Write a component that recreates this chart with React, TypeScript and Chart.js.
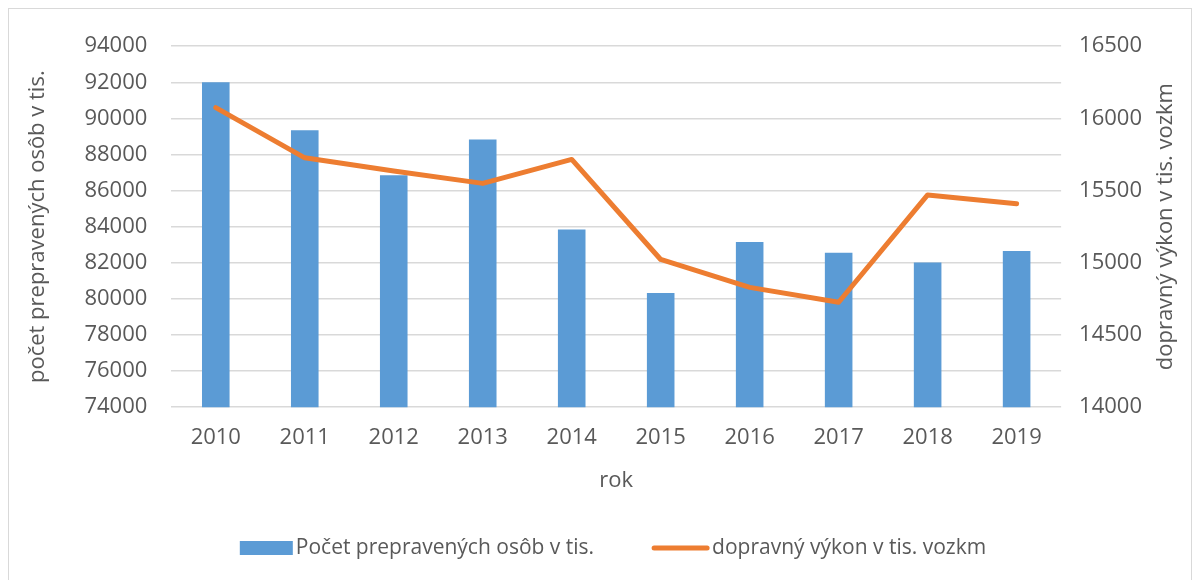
import React, { useEffect, useRef } from "react";
import { Chart, registerables } from "chart.js";

Chart.register(...registerables);

const years = ["2010", "2011", "2012", "2013", "2014", "2015", "2016", "2017", "2018", "2019"];
const passengers = [92000, 89350, 86850, 88830, 83850, 80330, 83150, 82550, 82010, 82650];
const performance = [16075, 15727, 15636, 15550, 15716, 15023, 14830, 14727, 15470, 15409];

const leftTitle = "počet prepravených osôb v tis.";
const rightTitle = "dopravný výkon v tis. vozkm";
const xTitle = "rok";
const barLabel = "Počet prepravených osôb v tis.";
const lineLabel = "dopravný výkon v tis. vozkm";

const FONT = "'Open Sans', sans-serif";
const TEXT = "#595959";
const BAR = "#5B9BD5";
const LINE = "#ED7D31";

const rightTitlePlugin = {
  id: "rightTitle",
  afterDraw(chart: any) {
    const { ctx, chartArea } = chart;
    ctx.save();
    ctx.font = `22px ${FONT}`;
    ctx.fillStyle = TEXT;
    ctx.textAlign = "center";
    ctx.textBaseline = "middle";
    ctx.translate(1157, (chartArea.top + chartArea.bottom) / 2);
    ctx.rotate(-Math.PI / 2);
    ctx.fillText(rightTitle, 0, 0);
    ctx.restore();
  },
};

const legendPlugin = {
  id: "customLegend",
  afterDraw(chart: any) {
    const { ctx } = chart;
    ctx.save();
    ctx.font = `21px ${FONT}`;
    ctx.textBaseline = "middle";
    ctx.textAlign = "left";
    const y = 539;
    const barW = 53;
    const lineW = 57;
    const gapText = 3;
    const gapItems = 58;
    const t1 = ctx.measureText(barLabel).width;
    const t2 = ctx.measureText(lineLabel).width;
    const total = barW + gapText + t1 + gapItems + lineW + gapText + t2;
    let x = 604 - total / 2;
    ctx.fillStyle = BAR;
    ctx.fillRect(x, y - 7, barW, 14);
    x += barW + gapText;
    ctx.fillStyle = TEXT;
    ctx.fillText(barLabel, x, y);
    x += t1 + gapItems;
    ctx.strokeStyle = LINE;
    ctx.lineWidth = 5;
    ctx.lineCap = "round";
    ctx.beginPath();
    ctx.moveTo(x + 2, y);
    ctx.lineTo(x + lineW - 2, y);
    ctx.stroke();
    x += lineW + gapText;
    ctx.fillStyle = TEXT;
    ctx.fillText(lineLabel, x, y);
    ctx.restore();
  },
};

export default function App() {
  const ref = useRef<HTMLCanvasElement | null>(null);
  useEffect(() => {
    if (!ref.current) return;
    const chart = new Chart(ref.current, {
      type: "bar",
      data: {
        labels: years,
        datasets: [
          {
            type: "line",
            label: lineLabel,
            data: performance,
            yAxisID: "y1",
            borderColor: LINE,
            backgroundColor: LINE,
            borderWidth: 5,
            pointRadius: 0,
            tension: 0,
            borderCapStyle: "round",
            borderJoinStyle: "round",
            order: 0,
          } as any,
          {
            type: "bar",
            label: barLabel,
            data: passengers,
            yAxisID: "y",
            backgroundColor: BAR,
            borderWidth: 0,
            barPercentage: 0.31,
            categoryPercentage: 1,
            order: 1,
          } as any,
        ],
      },
      options: {
        animation: false,
        responsive: true,
        maintainAspectRatio: false,
        layout: { padding: { left: 12, right: 31, top: 31, bottom: 91 } },
        plugins: {
          legend: { display: false },
          tooltip: { enabled: false },
        },
        scales: {
          x: {
            offset: true,
            grid: { display: false, drawTicks: false },
            border: { display: false },
            ticks: {
              color: TEXT,
              font: { family: FONT, size: 22 },
              padding: 17,
              maxRotation: 0,
              minRotation: 0,
              autoSkip: false,
            },
            title: {
              display: true,
              text: xTitle,
              color: TEXT,
              font: { family: FONT, size: 22 },
              padding: { top: 0, bottom: 4 },
            },
          },
          y: {
            position: "left",
            min: 74000,
            max: 94000,
            grid: { color: "#D9D9D9", lineWidth: 1.5, drawTicks: false },
            border: { display: false },
            ticks: {
              stepSize: 2000,
              color: TEXT,
              font: { family: FONT, size: 22 },
              padding: 24,
              callback: (v: any) => String(v),
            },
            title: {
              display: true,
              text: leftTitle,
              color: TEXT,
              font: { family: FONT, size: 22 },
              padding: { top: 4, bottom: 9 },
            },
          },
          y1: {
            position: "right",
            min: 14000,
            max: 16500,
            grid: { display: false, drawTicks: false },
            border: { display: false },
            ticks: {
              stepSize: 500,
              color: TEXT,
              font: { family: FONT, size: 22 },
              padding: 18,
              callback: (v: any) => String(v),
            },
          },
        },
      },
      plugins: [rightTitlePlugin, legendPlugin],
    });
    return () => chart.destroy();
  }, []);
  return (
    <div style={{ width: 1182, height: 580, border: "1px solid #D9D9D9", background: "#fff" }}>
      <canvas ref={ref} />
    </div>
  );
}
